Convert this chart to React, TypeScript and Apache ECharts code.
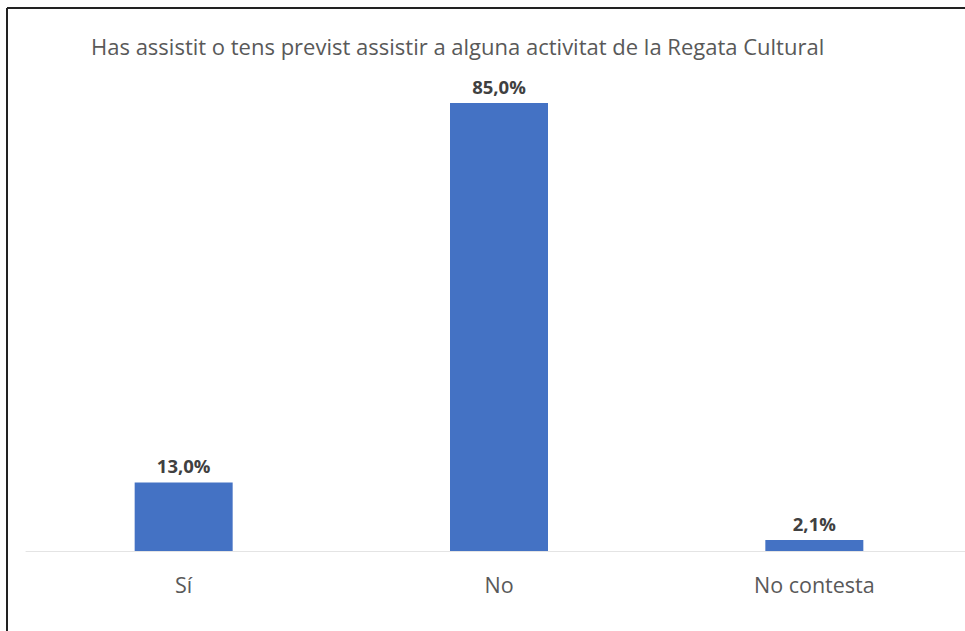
import React, { useEffect, useRef } from "react";
import * as echarts from "echarts";

const categories = ["Sí", "No", "No contesta"];
const values = [13.0, 85.0, 2.1];
const titleText = "Has assistit o tens previst assistir a alguna activitat de la Regata Cultural";

export default function App() {
  const ref = useRef<HTMLDivElement>(null);
  useEffect(() => {
    if (!ref.current) return;
    const chart = echarts.init(ref.current, undefined, { renderer: "svg" });
    chart.setOption({
      animation: false,
      backgroundColor: "#ffffff",
      title: {
        text: titleText,
        left: 86,
        top: 30,
        textStyle: { fontFamily: "Open Sans", fontSize: 22, fontWeight: "normal", color: "#595959" },
      },
      grid: { left: 26, top: 24, width: 946, height: 527, containLabel: false },
      xAxis: {
        type: "category",
        data: categories,
        axisLine: { show: true, lineStyle: { color: "#e4e4e4", width: 1 } },
        axisTick: { show: false },
        axisLabel: { fontFamily: "Open Sans", fontSize: 21.5, color: "#595959", margin: 22 },
      },
      yAxis: { type: "value", min: 0, max: 100, show: false, splitLine: { show: false } },
      series: [
        {
          type: "bar",
          data: values,
          barWidth: 98,
          itemStyle: { color: "#4472C4" },
          label: {
            show: true,
            position: "top",
            distance: 7,
            formatter: (p: any) => p.value.toFixed(1).replace(".", ",") + "%",
            fontFamily: "Open Sans",
            fontSize: 18.5,
            fontWeight: "bold",
            color: "#404040",
          },
        },
      ],
      graphic: [
        { type: "line", shape: { x1: 7, y1: 8, x2: 985, y2: 8 }, style: { stroke: "#222", lineWidth: 2 } },
        { type: "line", shape: { x1: 7, y1: 8, x2: 7, y2: 631 }, style: { stroke: "#222", lineWidth: 2 } },
      ],
    });
    return () => chart.dispose();
  }, []);
  return <div ref={ref} style={{ position: "fixed", left: 0, top: 0, width: 985, height: 631 }} />;
}
